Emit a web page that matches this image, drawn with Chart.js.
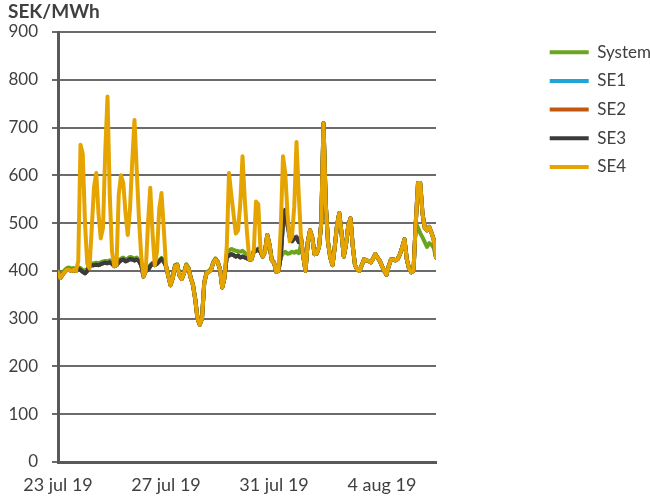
<!DOCTYPE html>
<html lang="sv">
<head>
<meta charset="UTF-8">
<title>Spotpriser SEK/MWh</title>
<script src="https://cdn.jsdelivr.net/npm/chart.js@4.4.1/dist/chart.umd.min.js"></script>
<style>
  body { margin: 0; background: #fff; }
</style>
</head>
<body>
<canvas id="myChart" width="650" height="498"></canvas>
<script>
// hours since 23 jul 2019 00:00, every 2 hours
const hours = Array.from({ length: 169 }, (_, i) => i * 2);
const tickHours = [0, 96, 192, 288];
const tickLabels = ['23 jul 19', '27 jul 19', '31 jul 19', '4 aug 19'];

// SEK/MWh, one row per day (12 values)
const se4 = [
  397, 385, 392, 398, 403, 402, 400, 402, 400, 420, 664, 645,
  500, 415, 405, 490, 575, 605, 520, 468, 490, 650, 765, 560,
  440, 410, 412, 560, 600, 584, 522, 475, 530, 630, 716, 610,
  508, 430, 388, 400, 500, 574, 480, 412, 440, 530, 563, 490,
  410, 390, 370, 385, 410, 412, 390, 383, 395, 412, 405, 385,
  370, 340, 300, 287, 300, 375, 395, 398, 402, 417, 424, 418,
  403, 365, 385, 450, 605, 560, 520, 478, 485, 540, 640, 550,
  480, 424, 424, 440, 545, 540, 445, 430, 440, 475, 455, 422,
  417, 398, 400, 490, 640, 605, 520, 462, 472, 535, 670, 560,
  470, 430, 400, 460, 485, 470, 435, 436, 450, 500, 709, 540,
  460, 428, 412, 450, 495, 521, 480, 430, 455, 495, 510, 452,
  412, 403, 400, 412, 424, 422, 421, 418, 425, 435, 428, 421,
  410, 400, 392, 410, 424, 424, 422, 425, 435, 450, 466, 425,
  405, 397, 400, 500, 584, 584, 520, 490, 485, 492, 480, 465,
  428
];
const se3 = [
  397, 385, 392, 398, 403, 402, 400, 402, 400, 405, 402, 398,
  395, 400, 410, 412, 412, 413, 412, 414, 416, 417, 416, 418,
  415, 410, 412, 418, 422, 424, 420, 422, 425, 424, 422, 424,
  420, 412, 388, 400, 402, 410, 415, 412, 415, 420, 425, 420,
  410, 390, 370, 385, 410, 412, 390, 383, 395, 412, 405, 385,
  370, 340, 300, 287, 300, 375, 395, 398, 402, 417, 424, 418,
  403, 365, 385, 430, 432, 435, 433, 430, 432, 428, 430, 428,
  426, 424, 424, 440, 442, 445, 440, 430, 440, 475, 455, 422,
  417, 398, 400, 430, 500, 528, 495, 470, 462, 468, 470, 460,
  470, 430, 400, 460, 485, 470, 435, 436, 450, 500, 709, 540,
  460, 428, 412, 450, 495, 521, 480, 430, 455, 495, 510, 452,
  412, 403, 400, 412, 424, 422, 421, 418, 425, 435, 428, 421,
  410, 400, 392, 410, 424, 424, 422, 425, 435, 450, 466, 425,
  405, 397, 400, 500, 584, 584, 520, 490, 485, 492, 480, 465,
  428
];
const se2 = [
  397, 385, 392, 398, 403, 402, 400, 402, 400, 405, 402, 398,
  395, 400, 410, 412, 412, 413, 412, 414, 416, 417, 416, 418,
  415, 410, 412, 418, 422, 424, 420, 422, 425, 424, 422, 424,
  420, 412, 388, 400, 402, 410, 415, 412, 415, 420, 425, 420,
  410, 390, 370, 385, 410, 412, 390, 383, 395, 412, 405, 385,
  370, 340, 300, 287, 300, 375, 395, 398, 402, 417, 424, 418,
  403, 365, 385, 430, 432, 435, 433, 430, 432, 428, 430, 428,
  426, 424, 424, 440, 442, 445, 440, 430, 440, 475, 455, 422,
  417, 398, 400, 430, 500, 528, 500, 478, 470, 470, 472, 462,
  470, 430, 400, 460, 485, 470, 435, 436, 450, 500, 709, 540,
  460, 428, 412, 450, 495, 521, 480, 430, 455, 495, 510, 452,
  412, 403, 400, 412, 424, 422, 421, 418, 425, 435, 428, 421,
  410, 400, 392, 410, 424, 424, 422, 425, 435, 450, 466, 425,
  405, 397, 400, 500, 584, 584, 520, 490, 485, 492, 480, 465,
  428
];
const se1 = [
  397, 385, 392, 398, 403, 402, 400, 402, 400, 405, 402, 398,
  395, 400, 410, 412, 412, 413, 412, 414, 416, 417, 416, 418,
  415, 410, 412, 418, 422, 424, 420, 422, 425, 424, 422, 424,
  420, 412, 388, 400, 402, 410, 415, 412, 415, 420, 425, 420,
  410, 390, 370, 385, 410, 412, 390, 383, 395, 412, 405, 385,
  370, 340, 300, 287, 300, 375, 395, 398, 402, 417, 424, 418,
  403, 365, 385, 430, 432, 435, 433, 430, 432, 428, 430, 428,
  426, 424, 424, 440, 442, 445, 440, 430, 440, 475, 455, 422,
  417, 398, 400, 430, 500, 528, 495, 470, 462, 468, 470, 460,
  470, 430, 400, 460, 485, 470, 435, 436, 450, 500, 709, 540,
  460, 428, 412, 450, 495, 521, 480, 430, 455, 495, 510, 452,
  412, 403, 400, 412, 424, 422, 421, 418, 425, 435, 428, 421,
  410, 400, 392, 410, 424, 424, 422, 425, 435, 450, 466, 425,
  405, 397, 400, 500, 584, 584, 520, 490, 485, 492, 480, 465,
  428
];
const system = [
  399, 388, 396, 402, 406, 407, 405, 406, 404, 408, 406, 402,
  400, 404, 414, 415, 416, 417, 416, 418, 420, 421, 420, 422,
  418, 413, 416, 422, 426, 428, 424, 426, 429, 428, 426, 428,
  423, 415, 390, 402, 404, 412, 417, 414, 417, 422, 427, 422,
  412, 392, 372, 387, 412, 414, 392, 385, 397, 414, 407, 387,
  372, 342, 302, 289, 302, 377, 397, 400, 404, 419, 426, 420,
  405, 367, 387, 435, 442, 446, 444, 442, 441, 440, 442, 438,
  430, 426, 426, 442, 444, 447, 442, 432, 442, 475, 455, 424,
  419, 400, 402, 428, 437, 440, 436, 437, 440, 438, 441, 437,
  455, 430, 400, 460, 485, 470, 435, 436, 450, 500, 709, 540,
  460, 428, 412, 450, 495, 521, 480, 430, 455, 495, 510, 452,
  412, 403, 400, 412, 424, 422, 421, 418, 425, 435, 428, 421,
  410, 400, 392, 410, 424, 424, 422, 425, 435, 450, 466, 425,
  405, 397, 400, 500, 490, 479, 470, 460, 450, 458, 455, 448,
  428
];

const seriesNames = ['System', 'SE1', 'SE2', 'SE3', 'SE4'];
const seriesData = [system, se1, se2, se3, se4];
const seriesColors = ['#6aa51f', '#1fa6d6', '#c0580f', '#3b3b3b', '#e5a400'];

const font = 'Lato';
const textColor = '#404040';
const axisColor = '#595959';

// keeps free room between the plot and the legend
const gapAxis = {
    position: 'right',
    display: true,
    grid: { display: false, drawTicks: false },
    border: { display: false },
    ticks: { display: false },
    afterFit: function (scale) { scale.width = 102; }
};

// legend measures its text a bit short, give it a few px more
const legendRoom = {
    id: 'legendRoom',
    afterInit: function (chart) {
        const fit = chart.legend.fit;
        chart.legend.fit = function () {
            fit.call(this);
            this.width += 5;
        };
    }
};

function drawChart() {
    let ctx = document.getElementById('myChart').getContext('2d');
    let chart = new Chart(ctx, {
        type: 'line',
        data: {
            labels: hours,
            datasets: seriesNames.map(function (name, i) {
                return {
                    label: name,
                    data: seriesData[i],
                    borderColor: seriesColors[i],
                    backgroundColor: seriesColors[i],
                    borderWidth: 4,
                    borderCapStyle: 'round',
                    borderJoinStyle: 'round',
                    pointRadius: 0,
                    tension: 0,
                    order: seriesNames.length - i
                };
            })
        },
        options: {
            responsive: false,
            animation: false,
            layout: { padding: { left: 8, right: 0, top: 0, bottom: 4 } },
            plugins: {
                title: {
                    display: true,
                    text: 'SEK/MWh',
                    align: 'start',
                    color: textColor,
                    font: { family: font, size: 19, weight: 'bold' },
                    padding: { top: 0, bottom: 9.2 }
                },
                legend: {
                    position: 'right',
                    align: 'start',
                    fullSize: false,
                    reverse: true,
                    labels: {
                        color: textColor,
                        font: { family: font, size: 17 },
                        usePointStyle: true,
                        pointStyle: 'line',
                        pointStyleWidth: 39,
                        padding: 11.7
                    }
                },
                tooltip: { enabled: false }
            },
            scales: {
                x: {
                    type: 'linear',
                    min: 0,
                    max: 336,
                    grid: { display: false, drawTicks: false },
                    border: { display: true, color: axisColor, width: 3 },
                    afterFit: function (scale) { scale.height = 32; },
                    afterBuildTicks: function (scale) {
                        scale.ticks = tickHours.map(function (h) { return { value: h }; });
                    },
                    ticks: {
                        autoSkip: false,
                        maxRotation: 0,
                        padding: 12,
                        color: textColor,
                        font: { family: font, size: 18 },
                        callback: function (value) {
                            return tickLabels[tickHours.indexOf(value)];
                        }
                    }
                },
                y: {
                    min: 0,
                    max: 900,
                    grid: { color: '#6b6b6b', lineWidth: 2, tickLength: 6 },
                    border: { display: true, color: axisColor, width: 3 },
                    afterFit: function (scale) { scale.width = 50; },
                    ticks: {
                        stepSize: 100,
                        padding: 14,
                        color: textColor,
                        font: { family: font, size: 17 }
                    }
                },
                gap: gapAxis
            }
        },
        plugins: [legendRoom]
    });
}

Promise.all([
    document.fonts.load('17px Lato'),
    document.fonts.load('bold 19px Lato')
]).then(drawChart, drawChart);
</script>
</body>
</html>
